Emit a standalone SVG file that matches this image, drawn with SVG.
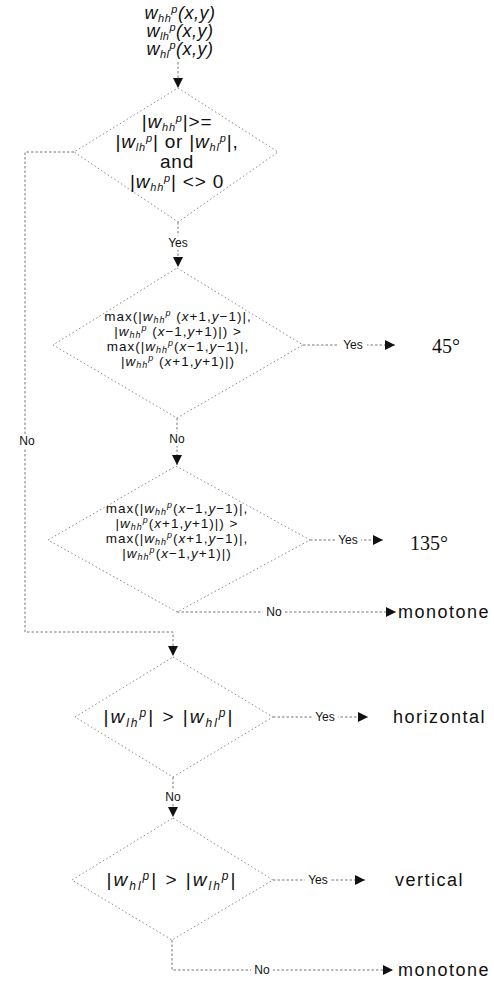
<svg xmlns="http://www.w3.org/2000/svg" width="494" height="984" viewBox="0 0 494 984">
<style>
text{font-family:"Liberation Sans",Arial,sans-serif;fill:#111}
.i{font-style:italic}
.dia{fill:none;stroke:#8a8a8a;stroke-width:1;stroke-dasharray:1.5 2.5}
.c{fill:none;stroke:#777;stroke-width:1;stroke-dasharray:2.5 2}
.lbl{font-size:12px;text-anchor:middle}
.bg{fill:#fff}
.t19{font-size:19px;text-anchor:middle;letter-spacing:0.8px}
.t14{font-size:13.5px;text-anchor:middle;letter-spacing:1px}
.t18{font-size:19px;text-anchor:middle;letter-spacing:2px}
.out{font-size:18px;letter-spacing:1.5px}
.deg{font-family:"Liberation Serif","Times New Roman",serif;font-size:20px}
</style>
<defs>
<marker id="ah" viewBox="0 0 10 10" refX="10" refY="5" markerWidth="10" markerHeight="10" markerUnits="userSpaceOnUse" orient="auto">
<path d="M0,0 L10,5 L0,10 z" fill="#111"/>
</marker>
</defs>

<g id="connectors">
<path class="c" d="M178,62 V88" marker-end="url(#ah)"/>
<path class="c" d="M178,222 V267" marker-end="url(#ah)"/>
<path class="c" d="M74,152 H25 V632 H173 V656" marker-end="url(#ah)"/>
<path class="c" d="M303,345 H395" marker-end="url(#ah)"/>
<path class="c" d="M177,418 V465" marker-end="url(#ah)"/>
<path class="c" d="M310,540 H383" marker-end="url(#ah)"/>
<path class="c" d="M177,612 H396" marker-end="url(#ah)"/>
<path class="c" d="M273,717 H368" marker-end="url(#ah)"/>
<path class="c" d="M173,777 V817" marker-end="url(#ah)"/>
<path class="c" d="M273,880 H365" marker-end="url(#ah)"/>
<path class="c" d="M172,940 V970 H393" marker-end="url(#ah)"/>
<rect class="bg" x="165" y="236" width="26" height="14"/>
<text class="lbl" x="178" y="247">Yes</text>
<rect class="bg" x="16" y="434" width="22" height="14"/>
<text class="lbl" x="27" y="445">No</text>
<rect class="bg" x="166" y="432" width="22" height="14"/>
<text class="lbl" x="177" y="443">No</text>
<rect class="bg" x="339" y="338" width="28" height="14"/>
<text class="lbl" x="353" y="349">Yes</text>
<rect class="bg" x="335" y="533" width="26" height="14"/>
<text class="lbl" x="348" y="544">Yes</text>
<rect class="bg" x="263" y="605" width="22" height="14"/>
<text class="lbl" x="274" y="616">No</text>
<rect class="bg" x="312" y="710" width="26" height="14"/>
<text class="lbl" x="325" y="721">Yes</text>
<rect class="bg" x="162" y="790" width="22" height="14"/>
<text class="lbl" x="173" y="801">No</text>
<rect class="bg" x="305" y="873" width="26" height="14"/>
<text class="lbl" x="318" y="884">Yes</text>
<rect class="bg" x="251" y="963" width="22" height="14"/>
<text class="lbl" x="262" y="974">No</text>
</g>

<g id="input">
<text x="180" y="19" class="i" font-size="18" letter-spacing="0.5" text-anchor="middle">w<tspan font-size="11" dy="3">hh</tspan><tspan font-size="11" dy="-9">p</tspan><tspan dy="6">(x,y)</tspan></text>
<text x="180" y="37" class="i" font-size="18" letter-spacing="0.5" text-anchor="middle">w<tspan font-size="11" dy="3">lh</tspan><tspan font-size="11" dy="-9">p</tspan><tspan dy="6">(x,y)</tspan></text>
<text x="180" y="55" class="i" font-size="18" letter-spacing="0.5" text-anchor="middle">w<tspan font-size="11" dy="3">hl</tspan><tspan font-size="11" dy="-9">p</tspan><tspan dy="6">(x,y)</tspan></text>
</g>

<g id="decision1">
<polygon class="dia" points="178,88 278,152 178,222 74,152"/>
<text class="t19" x="177" y="128">|<tspan class="i">w</tspan><tspan class="i" font-size="11" dy="3">hh</tspan><tspan class="i" font-size="11" dy="-9">p</tspan><tspan dy="6">|&gt;=</tspan></text>
<text class="t19" x="177" y="148">|<tspan class="i">w</tspan><tspan class="i" font-size="11" dy="3">lh</tspan><tspan class="i" font-size="11" dy="-9">p</tspan><tspan dy="6">| or |</tspan><tspan class="i">w</tspan><tspan class="i" font-size="11" dy="3">hl</tspan><tspan class="i" font-size="11" dy="-9">p</tspan><tspan dy="6">|,</tspan></text>
<text class="t19" x="177" y="168">and</text>
<text class="t19" x="177" y="188">|<tspan class="i">w</tspan><tspan class="i" font-size="11" dy="3">hh</tspan><tspan class="i" font-size="11" dy="-9">p</tspan><tspan dy="6">| &lt;&gt; 0</tspan></text>
</g>

<g id="decision2">
<polygon class="dia" points="177,268 303,345 177,418 53,345"/>
<text class="t14" x="178" y="321">max(|<tspan class="i">w</tspan><tspan class="i" font-size="9" dy="2">hh</tspan><tspan class="i" font-size="9" dy="-7">p</tspan><tspan dy="5"> (</tspan><tspan class="i">x</tspan>+1,<tspan class="i">y</tspan>−1)|,</text>
<text class="t14" x="178" y="336">|<tspan class="i">w</tspan><tspan class="i" font-size="9" dy="2">hh</tspan><tspan class="i" font-size="9" dy="-7">p</tspan><tspan dy="5"> (</tspan><tspan class="i">x</tspan>−1,<tspan class="i">y</tspan>+1)|) &gt;</text>
<text class="t14" x="178" y="351">max(|<tspan class="i">w</tspan><tspan class="i" font-size="9" dy="2">hh</tspan><tspan class="i" font-size="9" dy="-7">p</tspan><tspan dy="5">(</tspan><tspan class="i">x</tspan>−1,<tspan class="i">y</tspan>−1)|,</text>
<text class="t14" x="178" y="366">|<tspan class="i">w</tspan><tspan class="i" font-size="9" dy="2">hh</tspan><tspan class="i" font-size="9" dy="-7">p</tspan><tspan dy="5"> (</tspan><tspan class="i">x</tspan>+1,<tspan class="i">y</tspan>+1)|)</text>
</g>

<g id="decision3">
<polygon class="dia" points="176,466 310,540 177,612 48,540"/>
<text class="t14" x="177" y="513">max(|<tspan class="i">w</tspan><tspan class="i" font-size="9" dy="2">hh</tspan><tspan class="i" font-size="9" dy="-7">p</tspan><tspan dy="5">(</tspan><tspan class="i">x</tspan>−1,<tspan class="i">y</tspan>−1)|,</text>
<text class="t14" x="177" y="528">|<tspan class="i">w</tspan><tspan class="i" font-size="9" dy="2">hh</tspan><tspan class="i" font-size="9" dy="-7">p</tspan><tspan dy="5">(</tspan><tspan class="i">x</tspan>+1,<tspan class="i">y</tspan>+1)|) &gt;</text>
<text class="t14" x="177" y="543">max(|<tspan class="i">w</tspan><tspan class="i" font-size="9" dy="2">hh</tspan><tspan class="i" font-size="9" dy="-7">p</tspan><tspan dy="5">(</tspan><tspan class="i">x</tspan>+1,<tspan class="i">y</tspan>−1)|,</text>
<text class="t14" x="177" y="558">|<tspan class="i">w</tspan><tspan class="i" font-size="9" dy="2">hh</tspan><tspan class="i" font-size="9" dy="-7">p</tspan><tspan dy="5">(</tspan><tspan class="i">x</tspan>−1,<tspan class="i">y</tspan>+1)|)</text>
</g>

<g id="decision4">
<polygon class="dia" points="173,657 273,717 173,777 75,717"/>
<text class="t18" x="169" y="723">|<tspan class="i">w</tspan><tspan class="i" font-size="12" dy="4">lh</tspan><tspan class="i" font-size="12" dy="-10">p</tspan><tspan dy="6">| &gt; |</tspan><tspan class="i">w</tspan><tspan class="i" font-size="12" dy="4">hl</tspan><tspan class="i" font-size="12" dy="-10">p</tspan><tspan dy="6">|</tspan></text>
</g>

<g id="decision5">
<polygon class="dia" points="173,818 273,880 172,940 72,880"/>
<text class="t18" x="172" y="886">|<tspan class="i">w</tspan><tspan class="i" font-size="12" dy="4">hl</tspan><tspan class="i" font-size="12" dy="-10">p</tspan><tspan dy="6">| &gt; |</tspan><tspan class="i">w</tspan><tspan class="i" font-size="12" dy="4">lh</tspan><tspan class="i" font-size="12" dy="-10">p</tspan><tspan dy="6">|</tspan></text>
</g>

<g id="out45"><text class="deg" x="432" y="353">45°</text></g>
<g id="out135"><text class="deg" x="410" y="550">135°</text></g>
<g id="outMonotone1"><text class="out" x="398" y="618">monotone</text></g>
<g id="outHorizontal"><text class="out" x="393" y="723">horizontal</text></g>
<g id="outVertical"><text class="out" x="395" y="886">vertical</text></g>
<g id="outMonotone2"><text class="out" x="398" y="976">monotone</text></g>
</svg>
